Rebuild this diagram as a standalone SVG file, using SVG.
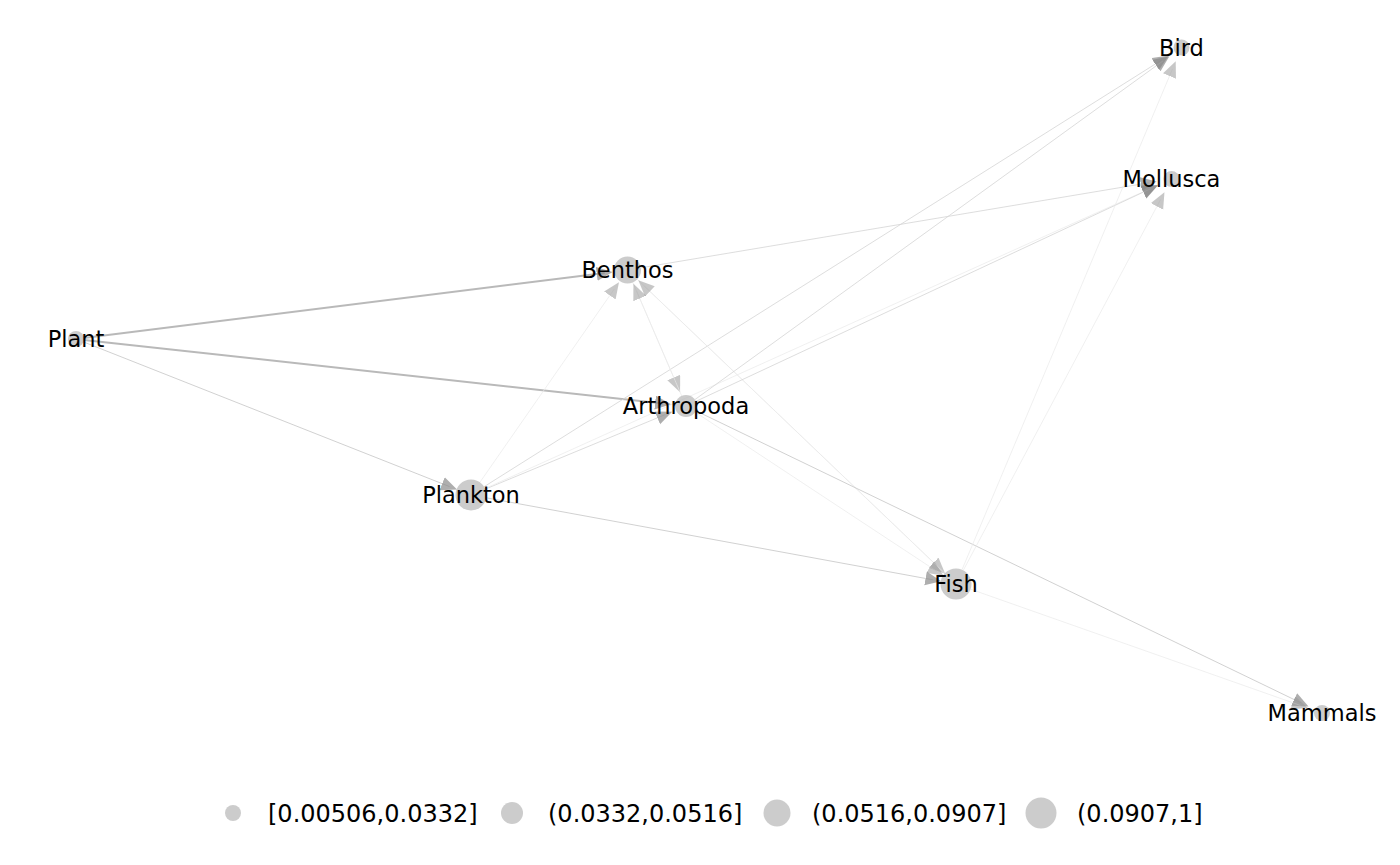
<svg xmlns="http://www.w3.org/2000/svg" width="1400" height="865" viewBox="0 0 1400 865">
<style>
.e{fill:none;stroke:#d4d4d4;stroke-width:0.8}
.thick{stroke:#b9b9b9;stroke-width:2}
.mid{stroke:#cccccc;stroke-width:0.9}
.faint{stroke:#eaeaea;stroke-width:0.7}
.a{marker-end:url(#arr)}
.al{marker-end:url(#arrl)}
.node{fill:#b0b0b0;fill-opacity:0.65}
.lbl{font-family:"DejaVu Sans",sans-serif;font-size:22.5px;fill:#000;text-anchor:middle}
.leg{font-family:"DejaVu Sans",sans-serif;font-size:24px;fill:#000}
</style>
<defs>
<marker id="arr" markerUnits="userSpaceOnUse" markerWidth="18" markerHeight="16" refX="8" refY="7" orient="auto">
<path d="M0,0 L16,7 L0,14 Z" fill="#888" fill-opacity="0.68"/>
</marker>
<marker id="arrl" markerUnits="userSpaceOnUse" markerWidth="18" markerHeight="16" refX="8" refY="7" orient="auto">
<path d="M0,0 L16,7 L0,14 Z" fill="#999" fill-opacity="0.55"/>
</marker>
</defs>
<rect width="1400" height="865" fill="#fff"/>
<g id="edges">
<line class="e thick a" x1="83.9" y1="338.0" x2="604.7" y2="272.9"/>
<line class="e thick a" x1="83.9" y1="339.9" x2="663.1" y2="403.5"/>
<line class="e mid a" x1="83.4" y1="341.9" x2="449.6" y2="486.6"/>
<line class="e faint al" x1="479.9" y1="482.3" x2="614.4" y2="288.9"/>
<line class="e a" x1="485.3" y1="489.1" x2="664.8" y2="414.8"/>
<line class="e faint a" x1="485.1" y1="488.6" x2="1150.5" y2="188.5"/>
<line class="e a" x1="484.1" y1="486.7" x2="1162.0" y2="59.8"/>
<line class="e mid a" x1="486.2" y1="497.8" x2="933.4" y2="579.9"/>
<line class="e a" x1="640.8" y1="267.8" x2="1148.8" y2="182.8"/>
<line class="e faint al" x1="632.8" y1="282.4" x2="676.9" y2="384.9"/>
<line class="e faint al" x1="681.7" y1="395.9" x2="636.6" y2="291.1"/>
<line class="e faint al" x1="637.3" y1="279.3" x2="939.4" y2="568.1"/>
<line class="e faint al" x1="944.8" y1="573.3" x2="644.1" y2="285.9"/>
<line class="e a" x1="696.0" y1="401.3" x2="1150.7" y2="188.7"/>
<line class="e a" x1="694.9" y1="399.6" x2="1162.9" y2="61.0"/>
<line class="e faint al" x1="695.2" y1="412.1" x2="936.8" y2="571.3"/>
<line class="e mid a" x1="695.9" y1="410.8" x2="1301.3" y2="703.0"/>
<line class="e faint al" x1="962.0" y1="569.7" x2="1172.6" y2="68.7"/>
<line class="e faint al" x1="963.3" y1="570.3" x2="1160.7" y2="199.3"/>
<line class="e faint al" x1="970.6" y1="589.2" x2="1300.3" y2="705.4"/>
</g>
<g id="node-bird"><circle class="node" cx="1181.5" cy="47.5" r="8"/><text class="lbl" x="1181.5" y="55.5">Bird</text></g>
<g id="node-mollusca"><circle class="node" cx="1171.5" cy="179" r="8"/><text class="lbl" x="1171.5" y="187">Mollusca</text></g>
<g id="node-benthos"><circle class="node" cx="627.5" cy="270" r="13.5"/><text class="lbl" x="627.5" y="278">Benthos</text></g>
<g id="node-plant"><circle class="node" cx="76" cy="339" r="8"/><text class="lbl" x="76" y="347">Plant</text></g>
<g id="node-arthropoda"><circle class="node" cx="686" cy="406" r="11"/><text class="lbl" x="686" y="414">Arthropoda</text></g>
<g id="node-plankton"><circle class="node" cx="471" cy="495" r="15.5"/><text class="lbl" x="471" y="503">Plankton</text></g>
<g id="node-fish"><circle class="node" cx="956" cy="584" r="15.5"/><text class="lbl" x="956" y="592">Fish</text></g>
<g id="node-mammals"><circle class="node" cx="1322" cy="713" r="8"/><text class="lbl" x="1322" y="721">Mammals</text></g>
<g id="legend">
<circle class="node" cx="233" cy="813" r="8"/><text class="leg" x="268" y="821.5">[0.00506,0.0332]</text>
<circle class="node" cx="512" cy="813" r="11"/><text class="leg" x="548" y="821.5">(0.0332,0.0516]</text>
<circle class="node" cx="777" cy="813" r="13.5"/><text class="leg" x="812" y="821.5">(0.0516,0.0907]</text>
<circle class="node" cx="1041" cy="813" r="15.5"/><text class="leg" x="1077" y="821.5">(0.0907,1]</text>
</g>
</svg>
